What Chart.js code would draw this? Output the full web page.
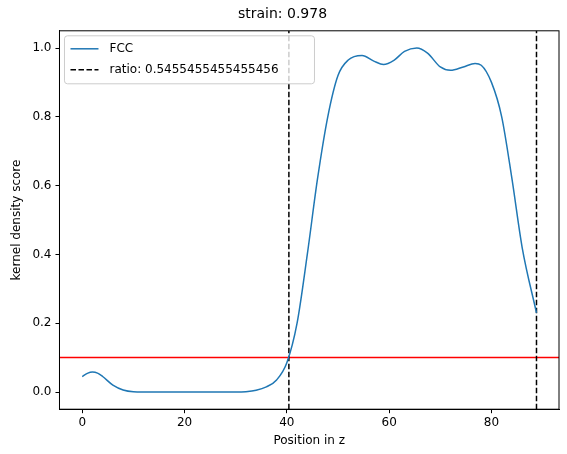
<!DOCTYPE html>
<html>
<head>
<script src="https://cdn.jsdelivr.net/npm/chart.js@4"></script>
<style>body{margin:0;background:#fff}#wrap{width:567px;height:454px}</style>
</head>
<body>
<div id="wrap"><canvas id="c"></canvas></div>
<script>
const posZ = [0, 1, 2, 3, 4, 6, 8, 10, 14, 20, 26, 30, 32, 34, 36, 38, 40, 42, 44, 46, 48, 50, 52, 54.7, 57, 58.9, 61, 63, 65.4, 67.5, 70, 72, 74.5, 76.8, 78, 80, 82, 84, 86, 88.8];
const fccScore = [0.045, 0.054, 0.058, 0.055, 0.045, 0.02, 0.006, 0.001, 0, 0, 0, 0, 0.001, 0.005, 0.015, 0.035, 0.085, 0.2, 0.4, 0.62, 0.8, 0.92, 0.965, 0.978, 0.962, 0.952, 0.965, 0.99, 1.0, 0.985, 0.945, 0.935, 0.945, 0.955, 0.95, 0.9, 0.8, 0.62, 0.42, 0.23];
const ratioLines = [40.4, 88.8];
const threshold = 0.1;
const xTicks = [0, 20, 40, 60, 80];
const yTicks = [0, 0.2, 0.4, 0.6, 0.8, 1.0];
const xMin = -4.44, xMax = 93.2;

const legendBox = {
  id: 'legendBox',
  afterDraw(chart) {
    const ctx = chart.ctx, a = chart.chartArea;
    const x = a.left + 5, y = a.top + 5;
    ctx.save();
    ctx.fillStyle = 'rgba(255,255,255,0.8)';
    ctx.strokeStyle = '#ccc';
    ctx.lineWidth = 1;
    ctx.beginPath();
    ctx.roundRect(x, y, 250, 48, 3);
    ctx.fill(); ctx.stroke();
    ctx.font = '12px DejaVu Sans';
    ctx.textBaseline = 'middle';
    ctx.lineWidth = 1.5;
    ctx.strokeStyle = '#1f77b4';
    ctx.beginPath(); ctx.moveTo(x + 6, y + 13); ctx.lineTo(x + 34, y + 13); ctx.stroke();
    ctx.strokeStyle = '#000';
    ctx.setLineDash([5.5, 2.5]);
    ctx.beginPath(); ctx.moveTo(x + 6, y + 34); ctx.lineTo(x + 34, y + 34); ctx.stroke();
    ctx.setLineDash([]);
    ctx.fillStyle = '#000';
    ctx.fillText('FCC', x + 45, y + 13);
    ctx.fillText('ratio: 0.5455455455455456', x + 45, y + 34);
    ctx.restore();
  }
};

const tickGrid = { display: true, drawOnChartArea: false, drawTicks: true, tickLength: 4, color: '#000' };

new Chart(document.getElementById('c'), {
  type: 'line',
  data: {
    datasets: [
      { data: posZ.map((x, i) => ({x, y: fccScore[i]})), borderColor: '#1f77b4', borderWidth: 1.5, pointRadius: 0, cubicInterpolationMode: 'monotone' },
      ...ratioLines.map(v => ({ data: [{x: v, y: -0.05}, {x: v, y: 1.05}], borderColor: '#000', borderWidth: 1.5, borderDash: [5.5, 2.5], pointRadius: 0 })),
      { data: [{x: xMin, y: threshold}, {x: xMax, y: threshold}], borderColor: '#ff0000', borderWidth: 1.5, pointRadius: 0 }
    ]
  },
  options: {
    animation: false, responsive: true, maintainAspectRatio: false,
    layout: { padding: { left: 6, right: 8, top: 2, bottom: 4 } },
    plugins: {
      legend: { display: false }, tooltip: { enabled: false },
      title: { display: true, text: 'strain: 0.978', color: '#000', font: { family: 'DejaVu Sans', size: 14, weight: 'normal' }, padding: { top: 4, bottom: 8 } }
    },
    scales: {
      x: {
        type: 'linear', min: xMin, max: xMax,
        afterBuildTicks: s => { s.ticks = xTicks.map(v => ({value: v})); },
        grid: tickGrid,
        border: { color: '#000' },
        ticks: { color: '#000', font: { family: 'DejaVu Sans', size: 12 }, padding: 2 },
        title: { display: true, text: 'Position in z', color: '#000', font: { family: 'DejaVu Sans', size: 12 }, padding: 2 }
      },
      y: {
        min: -0.05, max: 1.05,
        afterBuildTicks: s => { s.ticks = yTicks.map(v => ({value: v})); },
        grid: tickGrid,
        border: { color: '#000' },
        ticks: { color: '#000', font: { family: 'DejaVu Sans', size: 12 }, padding: 4, callback: v => v.toFixed(1) },
        title: { display: true, text: 'kernel density score', color: '#000', font: { family: 'DejaVu Sans', size: 12 }, padding: 4 }
      }
    }
  },
  plugins: [legendBox, {
    id: 'frame',
    afterDraw(chart) {
      const a = chart.chartArea, ctx = chart.ctx;
      ctx.save(); ctx.strokeStyle = '#000'; ctx.lineWidth = 1;
      ctx.strokeRect(a.left, a.top, a.right - a.left, a.bottom - a.top);
      ctx.restore();
    }
  }]
});
</script>
</body>
</html>
